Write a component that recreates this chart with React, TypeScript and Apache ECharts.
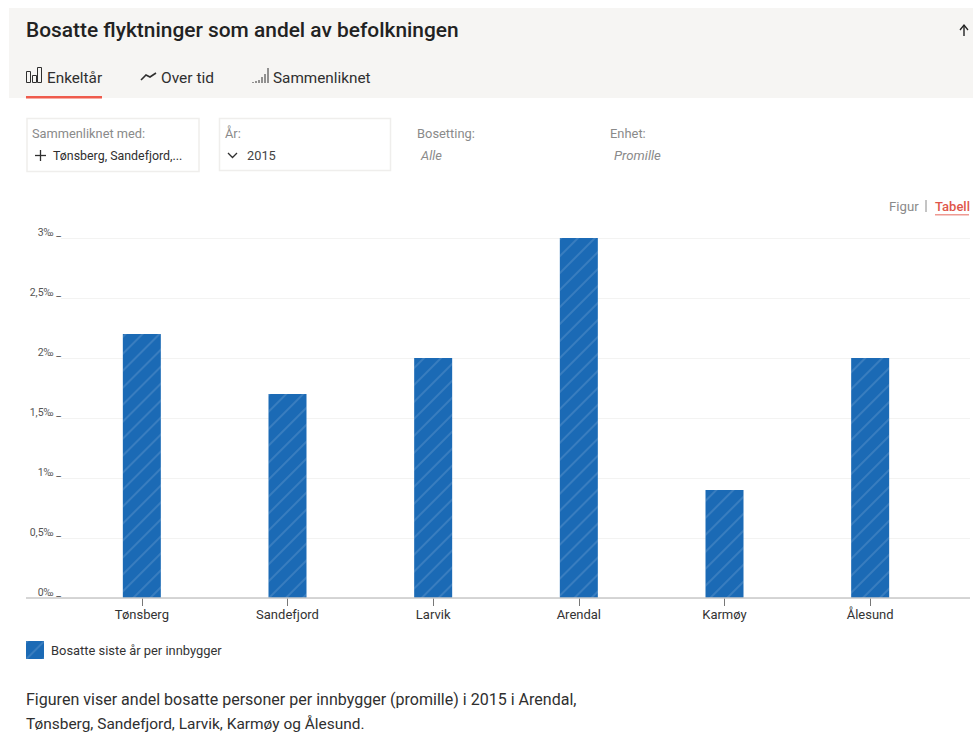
import React, { useEffect, useRef } from "react";
import * as echarts from "echarts";

const categories = ["Tønsberg", "Sandefjord", "Larvik", "Arendal", "Karmøy", "Ålesund"];
const values = [2.2, 1.7, 2.0, 3.0, 0.9, 2.0];
const seriesName = "Bosatte siste år per innbygger";
const FONT = "Roboto, 'Noto Sans', sans-serif";
const INK = "#2f2f2f";
const GREY = "#8a8a8a";
const RED = "#ef5b4c";
const BLUE = "#1b6ab5";

const txt = (x: number, y: number, text: string, size: number, fill: string, extra: any = {}) => ({
  type: "text", x, y,
  style: { text, fontSize: size, fill, fontFamily: FONT, textVerticalAlign: "middle", verticalAlign: "middle", ...extra },
});
const box = (x: number, y: number, width: number, height: number, fill: string, stroke?: string, lineWidth = 0) => ({
  type: "rect", shape: { x, y, width, height }, style: { fill, stroke, lineWidth },
});
const seg = (x1: number, y1: number, x2: number, y2: number, stroke: string, lineWidth = 1) => ({
  type: "line", shape: { x1, y1, x2, y2 }, style: { stroke, lineWidth },
});
const poly = (points: number[][], stroke: string, lineWidth = 1.3) => ({
  type: "polyline", shape: { points }, style: { stroke, lineWidth, fill: "none" },
});

const chrome: any[] = [
  box(9, 8, 964, 90, "#f6f5f3"),
  txt(26, 30, "Bosatte flyktninger som andel av befolkningen", 20.9, "#222", { fontWeight: 500 }),
  poly([[960, 30], [964, 25], [968, 30]], "#222"),
  seg(964, 25, 964, 36, "#222", 1.4),
  box(26.5, 71.5, 4, 11, "none", INK, 1),
  box(32.5, 75.5, 4, 7, "none", INK, 1),
  box(37.5, 67.5, 4, 15, "none", INK, 1),
  txt(47, 77.5, "Enkeltår", 15.3, INK),
  poly([[141, 80], [146, 75], [150, 77], [156, 73]], INK, 1.6),
  txt(161, 77.5, "Over tid", 15.5, INK),
  seg(253, 82, 253, 83, INK), seg(256, 81, 256, 83, INK), seg(259, 80, 259, 83, INK),
  seg(262, 77, 262, 83, INK), seg(265, 74, 265, 83, INK), seg(268, 68, 268, 83, INK),
  txt(273, 77.5, "Sammenliknet", 15.3, INK),
  box(26, 96, 76, 2.5, RED),
  box(27, 118.5, 172, 53, "#fff", "#efeeec", 1.5),
  box(219.5, 118.5, 171, 52, "#fff", "#efeeec", 1.5),
  txt(32, 133, "Sammenliknet med:", 12.8, GREY),
  seg(35, 155.5, 46, 155.5, INK, 1.3), seg(40.5, 150, 40.5, 161, INK, 1.3),
  txt(53, 155.5, "Tønsberg, Sandefjord,...", 12.4, INK),
  txt(225, 133, "År:", 12.8, GREY),
  poly([[228, 153], [232.5, 157.5], [237, 153]], INK),
  txt(247, 155, "2015", 12.8, "#444"),
  txt(417, 133, "Bosetting:", 12.9, GREY),
  txt(421, 155, "Alle", 12.9, GREY, { fontStyle: "italic" }),
  txt(610, 133, "Enhet:", 12.9, GREY),
  txt(614, 155, "Promille", 13.2, GREY, { fontStyle: "italic" }),
  txt(889, 206, "Figur", 13.2, GREY),
  seg(926, 200, 926, 212, GREY),
  txt(935, 206, "Tabell", 13, "#e0564a", { fontWeight: 500 }),
  box(935, 214, 34, 1.5, "#ee9a92"),
  seg(26, 598, 970, 598, "#c9c9c9", 1.5),
  txt(26, 699, "Figuren viser andel bosatte personer per innbygger (promille) i 2015 i Arendal,", 16.05, INK),
  txt(26, 724, "Tønsberg, Sandefjord, Larvik, Karmøy og Ålesund.", 15.45, INK),
];

const tickLabel = (v: number) => `${String(v).replace(".", ",")}‰ _`;

export default function App() {
  const ref = useRef<HTMLDivElement>(null);
  useEffect(() => {
    const chart = echarts.init(ref.current!, undefined, { renderer: "svg" });
    chart.setOption({
      animation: false,
      backgroundColor: "#fff",
      textStyle: { fontFamily: FONT },
      grid: [
        { left: 69, top: 238, width: 874, height: 360 },
        { left: 61, top: 238, width: 909, height: 360 },
      ],
      xAxis: [
        {
          type: "category", gridIndex: 0, data: categories,
          axisLine: { show: false },
          axisTick: { show: true, alignWithLabel: true, length: 8, lineStyle: { color: "#777" } },
          axisLabel: { color: "#333", fontSize: 13, margin: 10, fontFamily: FONT },
        },
        { type: "value", gridIndex: 1, show: false, min: 0, max: 1 },
      ],
      yAxis: [
        {
          type: "value", gridIndex: 0, min: 0, max: 3, interval: 0.5,
          axisLine: { show: false }, axisTick: { show: false }, splitLine: { show: false },
          axisLabel: {
            formatter: tickLabel, color: "#555", fontSize: 10.5, margin: 8,
            verticalAlign: "bottom", lineHeight: 12, fontFamily: FONT,
          },
        },
        {
          type: "value", gridIndex: 1, min: 0, max: 3, interval: 0.5,
          axisLine: { show: false }, axisTick: { show: false }, axisLabel: { show: false },
          splitLine: { show: true, lineStyle: { color: "#f3f3f2", width: 1 } },
        },
      ],
      legend: {
        left: 26, top: 641, padding: 0, itemWidth: 18, itemHeight: 18, icon: "rect",
        textStyle: { color: "#333", fontSize: 12.9, fontFamily: FONT, padding: [0, 0, 0, 2] },
        itemGap: 7,
      },
      series: [
        {
          type: "bar", name: seriesName, data: values, xAxisIndex: 0, yAxisIndex: 0, barWidth: 38,
          itemStyle: {
            color: BLUE,
            decal: {
              symbol: "rect", symbolSize: 1, rotation: -Math.PI / 4,
              dashArrayX: [[1, 0]], dashArrayY: [1.2, 10],
              color: "rgba(255,255,255,0.13)",
            },
          },
        },
      ],
      graphic: { elements: chrome.map((e) => ({ ...e, silent: true, z: 10 })) },
    });
    return () => chart.dispose();
  }, []);
  return <div ref={ref} style={{ position: "fixed", left: 0, top: 0, width: 973, height: 733 }} />;
}
